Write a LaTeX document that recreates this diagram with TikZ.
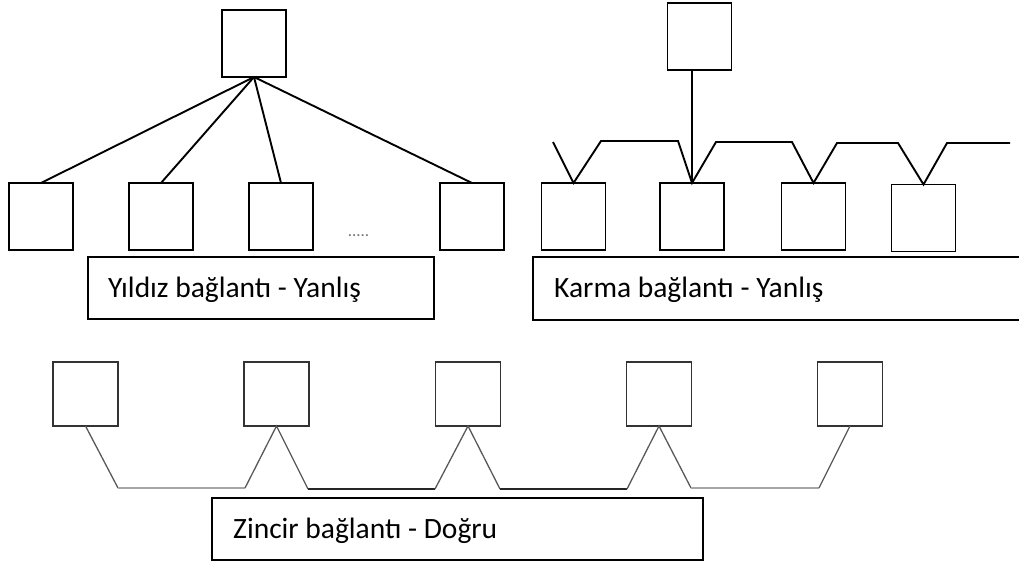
\documentclass[tikz,border=0pt]{standalone}
\usepackage{fontspec}
\setmainfont{Carlito}
\begin{document}
\begin{tikzpicture}[x=1pt,y=-1pt,
  topbox/.style={draw=black,line width=1.8pt,minimum width=64pt,minimum height=67pt,inner sep=0pt,outer sep=0pt},
  chainbox/.style={draw=black!80,line width=1.4pt,minimum width=65pt,minimum height=64pt,inner sep=0pt,outer sep=0pt},
  link/.style={line width=1.9pt,black,line join=miter},
  labelbox/.style={draw=black,line width=1.8pt},
  labeltext/.style={anchor=base west,inner sep=0pt,font=\fontsize{29.5}{32}\selectfont},
  chdiag/.style={line width=1.3pt,black!65},
  chlight/.style={line width=1.3pt,black!35},
  chdark/.style={line width=1.3pt,black!85}]
\useasboundingbox (0,0) rectangle (1019,561);
% ---- Star (Yildiz) ----
\node[topbox] (st) at (254,43.5) {};
\node[topbox] (s1) at (41,216.5) {};
\node[topbox] (s2) at (161,216.5) {};
\node[topbox] (s3) at (281,216.5) {};
\node[topbox] (s4) at (472,216.5) {};
\node[inner sep=0pt,font=\fontsize{17}{17}\selectfont,text=black!55] (sdots) at (358.5,236) {.....};
\foreach \b in {s1,s2,s3,s4}{\draw[link] (st.south) -- (\b.north);}
\draw[labelbox] (88,257) rectangle (434,319);
\node[labeltext] (slab) at (108,297) {Yıldız bağlantı - Yanlış};
% ---- Mixed (Karma) ----
\node[topbox] (kt) at (699.5,36.5) {};
\node[topbox] (k1) at (573.5,216.5) {};
\node[topbox] (k2) at (692,216.5) {};
\node[topbox] (k3) at (813.5,216.5) {};
\node[topbox] (k4) at (923.5,218) {};
\coordinate (kstart) at (553,142);
\coordinate (kend) at (1010,143);
\draw[link] (kt.south -| k2.north) -- (k2.north);
\draw[link] (kstart) -- (k1.north) -- (601,141) -- (678,141) -- (k2.north)
  -- (716,142) -- (792,142) -- (k3.north) -- (837,143) -- (898,143)
  -- (k4.north) -- (947,143) -- (kend);
\draw[labelbox] (533,257) rectangle (1030,320);
\node[labeltext] (klab) at (554,297) {Karma bağlantı - Yanlış};
% ---- Chain (Zincir) ----
\node[chainbox] (c1) at (85.5,394) {};
\node[chainbox] (c2) at (276.5,394) {};
\node[chainbox] (c3) at (468,394) {};
\node[chainbox] (c4) at (659,394) {};
\node[chainbox] (c5) at (850,394) {};
\draw[chdiag] (c1.south) -- (118,488);
\draw[chlight] (118,488) -- (245,488);
\draw[chdiag] (245,488) -- (c2.south) -- (308,489);
\draw[chdark] (308,489) -- (435,489);
\draw[chdiag] (435,489) -- (c3.south) -- (500,489);
\draw[chdark] (500,489) -- (627,489);
\draw[chdiag] (627,489) -- (c4.south) -- (691,488);
\draw[chlight] (691,488) -- (819,488);
\draw[chdiag] (819,488) -- (c5.south);
\draw[labelbox] (212,498) rectangle (703,560);
\node[labeltext] (zlab) at (233,538) {Zincir bağlantı - Doğru};
\end{tikzpicture}
\end{document}
